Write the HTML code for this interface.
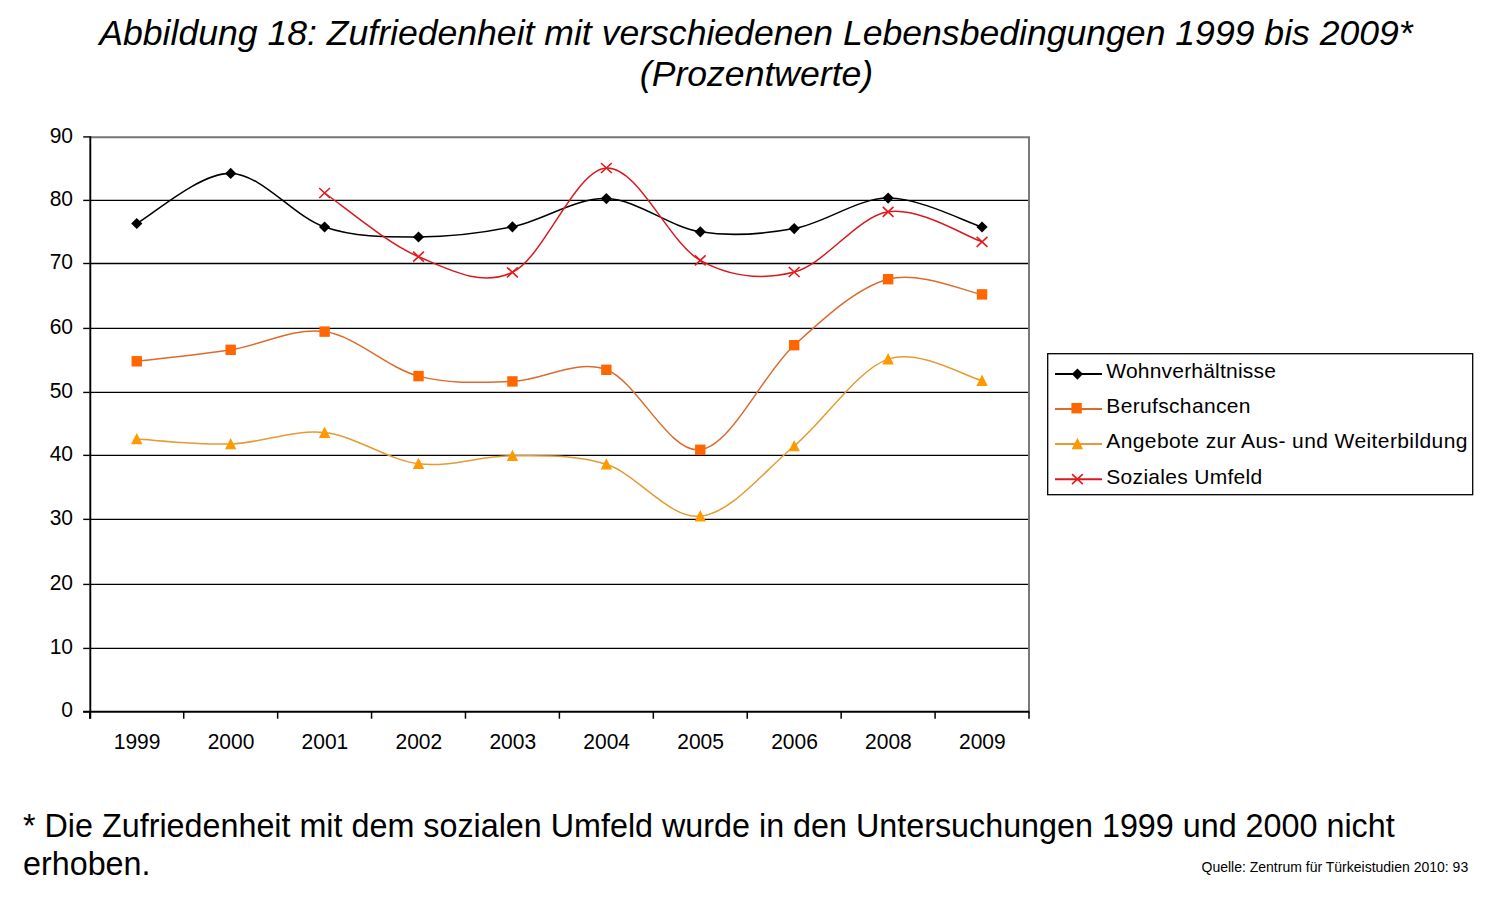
<!DOCTYPE html>
<html><head><meta charset="utf-8"><style>
html,body{margin:0;padding:0;background:#fff;}
body{width:1496px;height:905px;overflow:hidden;position:relative;}
svg{position:absolute;left:0;top:0;}
text{font-family:"Liberation Sans",sans-serif;fill:#000;}
</style></head><body>
<svg width="1496" height="905" viewBox="0 0 1496 905">
<rect x="0" y="0" width="1496" height="905" fill="#fff"/>

<text x="756" y="45" font-size="35.6" font-style="italic" text-anchor="middle">Abbildung 18: Zufriedenheit mit verschiedenen Lebensbedingungen 1999 bis 2009*</text>
<text x="756.5" y="85.6" font-size="35.6" font-style="italic" text-anchor="middle">(Prozentwerte)</text>
<line x1="89.80" y1="648.43" x2="1029.00" y2="648.43" stroke="#000" stroke-width="1.3"/>
<line x1="89.80" y1="584.43" x2="1029.00" y2="584.43" stroke="#000" stroke-width="1.3"/>
<line x1="89.80" y1="519.36" x2="1029.00" y2="519.36" stroke="#000" stroke-width="1.3"/>
<line x1="89.80" y1="455.36" x2="1029.00" y2="455.36" stroke="#000" stroke-width="1.3"/>
<line x1="89.80" y1="392.43" x2="1029.00" y2="392.43" stroke="#000" stroke-width="1.3"/>
<line x1="89.80" y1="328.43" x2="1029.00" y2="328.43" stroke="#000" stroke-width="1.3"/>
<line x1="89.80" y1="263.50" x2="1029.00" y2="263.50" stroke="#000" stroke-width="1.3"/>
<line x1="89.80" y1="200.40" x2="1029.00" y2="200.40" stroke="#000" stroke-width="1.3"/>
<path d="M89.80,137.20 L1029.00,137.20 L1029.00,711.70" stroke="#757575" stroke-width="1.9" fill="none"/>
<line x1="90.30" y1="136.30" x2="90.30" y2="718.70" stroke="#000" stroke-width="1.9"/>
<line x1="83.20" y1="711.70" x2="1029.50" y2="711.70" stroke="#000" stroke-width="1.9"/>
<line x1="83.2" y1="711.70" x2="89.80" y2="711.70" stroke="#000" stroke-width="1.4"/>
<line x1="83.2" y1="648.43" x2="89.80" y2="648.43" stroke="#000" stroke-width="1.4"/>
<line x1="83.2" y1="584.43" x2="89.80" y2="584.43" stroke="#000" stroke-width="1.4"/>
<line x1="83.2" y1="519.36" x2="89.80" y2="519.36" stroke="#000" stroke-width="1.4"/>
<line x1="83.2" y1="455.36" x2="89.80" y2="455.36" stroke="#000" stroke-width="1.4"/>
<line x1="83.2" y1="392.43" x2="89.80" y2="392.43" stroke="#000" stroke-width="1.4"/>
<line x1="83.2" y1="328.43" x2="89.80" y2="328.43" stroke="#000" stroke-width="1.4"/>
<line x1="83.2" y1="263.50" x2="89.80" y2="263.50" stroke="#000" stroke-width="1.4"/>
<line x1="83.2" y1="200.40" x2="89.80" y2="200.40" stroke="#000" stroke-width="1.4"/>
<line x1="83.2" y1="136.90" x2="89.80" y2="136.90" stroke="#000" stroke-width="1.4"/>
<line x1="89.80" y1="711.70" x2="89.80" y2="718.70" stroke="#000" stroke-width="1.5"/>
<line x1="183.72" y1="711.70" x2="183.72" y2="718.70" stroke="#000" stroke-width="1.5"/>
<line x1="277.64" y1="711.70" x2="277.64" y2="718.70" stroke="#000" stroke-width="1.5"/>
<line x1="371.56" y1="711.70" x2="371.56" y2="718.70" stroke="#000" stroke-width="1.5"/>
<line x1="465.48" y1="711.70" x2="465.48" y2="718.70" stroke="#000" stroke-width="1.5"/>
<line x1="559.40" y1="711.70" x2="559.40" y2="718.70" stroke="#000" stroke-width="1.5"/>
<line x1="653.32" y1="711.70" x2="653.32" y2="718.70" stroke="#000" stroke-width="1.5"/>
<line x1="747.24" y1="711.70" x2="747.24" y2="718.70" stroke="#000" stroke-width="1.5"/>
<line x1="841.16" y1="711.70" x2="841.16" y2="718.70" stroke="#000" stroke-width="1.5"/>
<line x1="935.08" y1="711.70" x2="935.08" y2="718.70" stroke="#000" stroke-width="1.5"/>
<line x1="1029.00" y1="711.70" x2="1029.00" y2="718.70" stroke="#000" stroke-width="1.5"/>
<text transform="translate(73,717.40) scale(1,1.06)" font-size="21" text-anchor="end">0</text>
<text transform="translate(73,654.13) scale(1,1.06)" font-size="21" text-anchor="end">10</text>
<text transform="translate(73,590.13) scale(1,1.06)" font-size="21" text-anchor="end">20</text>
<text transform="translate(73,525.06) scale(1,1.06)" font-size="21" text-anchor="end">30</text>
<text transform="translate(73,461.06) scale(1,1.06)" font-size="21" text-anchor="end">40</text>
<text transform="translate(73,398.13) scale(1,1.06)" font-size="21" text-anchor="end">50</text>
<text transform="translate(73,334.13) scale(1,1.06)" font-size="21" text-anchor="end">60</text>
<text transform="translate(73,269.20) scale(1,1.06)" font-size="21" text-anchor="end">70</text>
<text transform="translate(73,206.10) scale(1,1.06)" font-size="21" text-anchor="end">80</text>
<text transform="translate(73,142.60) scale(1,1.06)" font-size="21" text-anchor="end">90</text>
<text transform="translate(137.06,749.0) scale(1,1.07)" font-size="21" text-anchor="middle">1999</text>
<text transform="translate(230.98,749.0) scale(1,1.07)" font-size="21" text-anchor="middle">2000</text>
<text transform="translate(324.90,749.0) scale(1,1.07)" font-size="21" text-anchor="middle">2001</text>
<text transform="translate(418.82,749.0) scale(1,1.07)" font-size="21" text-anchor="middle">2002</text>
<text transform="translate(512.74,749.0) scale(1,1.07)" font-size="21" text-anchor="middle">2003</text>
<text transform="translate(606.66,749.0) scale(1,1.07)" font-size="21" text-anchor="middle">2004</text>
<text transform="translate(700.58,749.0) scale(1,1.07)" font-size="21" text-anchor="middle">2005</text>
<text transform="translate(794.50,749.0) scale(1,1.07)" font-size="21" text-anchor="middle">2006</text>
<text transform="translate(888.42,749.0) scale(1,1.07)" font-size="21" text-anchor="middle">2008</text>
<text transform="translate(982.34,749.0) scale(1,1.07)" font-size="21" text-anchor="middle">2009</text>
<path d="M136.76,223.50 C152.41,215.15 199.37,172.82 230.68,173.40 C261.99,173.98 293.29,216.40 324.60,227.00 C355.91,237.60 387.21,237.03 418.52,237.00 C449.83,236.97 481.13,233.20 512.44,226.80 C543.75,220.40 575.05,197.77 606.36,198.60 C637.67,199.43 668.97,226.80 700.28,231.80 C731.59,236.80 762.89,234.22 794.20,228.60 C825.51,222.98 856.81,198.37 888.12,198.10 C919.43,197.83 966.39,222.18 982.04,227.00" stroke="#000000" stroke-width="1.55" fill="none"/>
<path d="M136.76,361.30 C152.41,359.38 199.37,354.75 230.68,349.80 C261.99,344.85 293.29,327.22 324.60,331.60 C355.91,335.98 387.21,367.80 418.52,376.10 C449.83,384.40 481.13,382.45 512.44,381.40 C543.75,380.35 575.05,358.40 606.36,369.80 C637.67,381.20 668.97,453.90 700.28,449.80 C731.59,445.70 762.89,373.63 794.20,345.20 C825.51,316.77 856.81,287.67 888.12,279.20 C919.43,270.73 966.39,291.87 982.04,294.40" stroke="#DC6A2C" stroke-width="1.5" fill="none"/>
<path d="M136.76,439.00 C152.41,439.83 199.37,445.07 230.68,444.00 C261.99,442.93 293.29,429.30 324.60,432.60 C355.91,435.90 387.21,459.93 418.52,463.80 C449.83,467.67 481.13,455.72 512.44,455.80 C543.75,455.88 575.05,454.23 606.36,464.30 C637.67,474.37 668.97,519.25 700.28,516.20 C731.59,513.15 762.89,472.18 794.20,446.00 C825.51,419.82 856.81,369.98 888.12,359.10 C919.43,348.22 966.39,377.10 982.04,380.70" stroke="#E69A32" stroke-width="1.5" fill="none"/>
<path d="M324.60,193.00 C340.25,203.62 387.21,243.48 418.52,256.70 C449.83,269.92 481.13,287.08 512.44,272.30 C543.75,257.52 575.05,169.98 606.36,168.00 C637.67,166.02 668.97,243.07 700.28,260.40 C731.59,277.73 762.89,280.10 794.20,272.00 C825.51,263.90 856.81,216.83 888.12,211.80 C919.43,206.77 966.39,236.80 982.04,241.80" stroke="#DA1820" stroke-width="1.5" fill="none"/>
<path d="M136.76,217.90 L142.36,223.50 L136.76,229.10 L131.16,223.50 Z" fill="#000000"/>
<path d="M230.68,167.80 L236.28,173.40 L230.68,179.00 L225.08,173.40 Z" fill="#000000"/>
<path d="M324.60,221.40 L330.20,227.00 L324.60,232.60 L319.00,227.00 Z" fill="#000000"/>
<path d="M418.52,231.40 L424.12,237.00 L418.52,242.60 L412.92,237.00 Z" fill="#000000"/>
<path d="M512.44,221.20 L518.04,226.80 L512.44,232.40 L506.84,226.80 Z" fill="#000000"/>
<path d="M606.36,193.00 L611.96,198.60 L606.36,204.20 L600.76,198.60 Z" fill="#000000"/>
<path d="M700.28,226.20 L705.88,231.80 L700.28,237.40 L694.68,231.80 Z" fill="#000000"/>
<path d="M794.20,223.00 L799.80,228.60 L794.20,234.20 L788.60,228.60 Z" fill="#000000"/>
<path d="M888.12,192.50 L893.72,198.10 L888.12,203.70 L882.52,198.10 Z" fill="#000000"/>
<path d="M982.04,221.40 L987.64,227.00 L982.04,232.60 L976.44,227.00 Z" fill="#000000"/>
<rect x="131.56" y="356.10" width="10.40" height="10.40" fill="#FF6600"/>
<rect x="225.48" y="344.60" width="10.40" height="10.40" fill="#FF6600"/>
<rect x="319.40" y="326.40" width="10.40" height="10.40" fill="#FF6600"/>
<rect x="413.32" y="370.90" width="10.40" height="10.40" fill="#FF6600"/>
<rect x="507.24" y="376.20" width="10.40" height="10.40" fill="#FF6600"/>
<rect x="601.16" y="364.60" width="10.40" height="10.40" fill="#FF6600"/>
<rect x="695.08" y="444.60" width="10.40" height="10.40" fill="#FF6600"/>
<rect x="789.00" y="340.00" width="10.40" height="10.40" fill="#FF6600"/>
<rect x="882.92" y="274.00" width="10.40" height="10.40" fill="#FF6600"/>
<rect x="976.84" y="289.20" width="10.40" height="10.40" fill="#FF6600"/>
<path d="M136.76,432.90 L142.46,444.30 L131.06,444.30 Z" fill="#FF9900"/>
<path d="M230.68,437.90 L236.38,449.30 L224.98,449.30 Z" fill="#FF9900"/>
<path d="M324.60,426.50 L330.30,437.90 L318.90,437.90 Z" fill="#FF9900"/>
<path d="M418.52,457.70 L424.22,469.10 L412.82,469.10 Z" fill="#FF9900"/>
<path d="M512.44,449.70 L518.14,461.10 L506.74,461.10 Z" fill="#FF9900"/>
<path d="M606.36,458.20 L612.06,469.60 L600.66,469.60 Z" fill="#FF9900"/>
<path d="M700.28,510.10 L705.98,521.50 L694.58,521.50 Z" fill="#FF9900"/>
<path d="M794.20,439.90 L799.90,451.30 L788.50,451.30 Z" fill="#FF9900"/>
<path d="M888.12,353.00 L893.82,364.40 L882.42,364.40 Z" fill="#FF9900"/>
<path d="M982.04,374.60 L987.74,386.00 L976.34,386.00 Z" fill="#FF9900"/>
<path d="M319.20,188.00 L330.00,198.00 M330.00,188.00 L319.20,198.00" stroke="#E31A1C" stroke-width="1.60" fill="none"/>
<path d="M413.12,251.70 L423.92,261.70 M423.92,251.70 L413.12,261.70" stroke="#E31A1C" stroke-width="1.60" fill="none"/>
<path d="M507.04,267.30 L517.84,277.30 M517.84,267.30 L507.04,277.30" stroke="#E31A1C" stroke-width="1.60" fill="none"/>
<path d="M600.96,163.00 L611.76,173.00 M611.76,163.00 L600.96,173.00" stroke="#E31A1C" stroke-width="1.60" fill="none"/>
<path d="M694.88,255.40 L705.68,265.40 M705.68,255.40 L694.88,265.40" stroke="#E31A1C" stroke-width="1.60" fill="none"/>
<path d="M788.80,267.00 L799.60,277.00 M799.60,267.00 L788.80,277.00" stroke="#E31A1C" stroke-width="1.60" fill="none"/>
<path d="M882.72,206.80 L893.52,216.80 M893.52,206.80 L882.72,216.80" stroke="#E31A1C" stroke-width="1.60" fill="none"/>
<path d="M976.64,236.80 L987.44,246.80 M987.44,236.80 L976.64,246.80" stroke="#E31A1C" stroke-width="1.60" fill="none"/>
<rect x="1047.7" y="353.7" width="425" height="141" fill="none" stroke="#000" stroke-width="1.3"/>
<line x1="1055" y1="374.10" x2="1102" y2="374.10" stroke="#000000" stroke-width="2"/>
<path d="M1077.40,368.50 L1083.00,374.10 L1077.40,379.70 L1071.80,374.10 Z" fill="#000000"/>
<text x="1106.3" y="378.40" font-size="21" letter-spacing="0.20">Wohnverhältnisse</text>
<line x1="1055" y1="409.00" x2="1102" y2="409.00" stroke="#DC6A2C" stroke-width="2"/>
<rect x="1071.40" y="403.00" width="10.40" height="10.40" fill="#FF6600"/>
<text x="1106.3" y="413.30" font-size="21" letter-spacing="0.34">Berufschancen</text>
<line x1="1055" y1="443.90" x2="1102" y2="443.90" stroke="#E69A32" stroke-width="2"/>
<path d="M1077.40,437.80 L1083.10,449.20 L1071.70,449.20 Z" fill="#FF9900"/>
<text x="1106.3" y="448.20" font-size="21" letter-spacing="0.40">Angebote zur Aus- und Weiterbildung</text>
<line x1="1055" y1="479.20" x2="1102" y2="479.20" stroke="#DA1820" stroke-width="2"/>
<path d="M1072.00,474.20 L1082.80,484.20 M1082.80,474.20 L1072.00,484.20" stroke="#E31A1C" stroke-width="1.60" fill="none"/>
<text x="1106.3" y="483.50" font-size="21" letter-spacing="0.30">Soziales Umfeld</text>
<text x="23" y="836.8" font-size="32.3">* Die Zufriedenheit mit dem sozialen Umfeld wurde in den Untersuchungen 1999 und 2000 nicht</text>
<text x="23" y="874.9" font-size="32.3">erhoben.</text>
<text x="1201.5" y="871.5" font-size="14">Quelle: Zentrum für Türkeistudien 2010: 93</text>
</svg></body></html>
